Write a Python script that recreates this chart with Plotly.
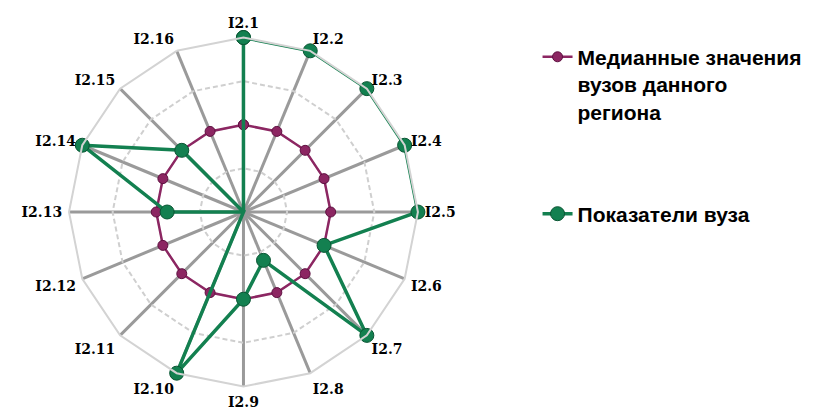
import plotly.graph_objects as go

categories = ["I2.1", "I2.2", "I2.3", "I2.4", "I2.5", "I2.6", "I2.7", "I2.8",
              "I2.9", "I2.10", "I2.11", "I2.12", "I2.13", "I2.14", "I2.15", "I2.16"]
median_values = [2, 2, 2, 2, 2, 2, 2, 2, 2, 2, 2, 2, 2, 2, 2, 2]
university_values = [4, 4, 4, 4, 4, 2, 4, 1.2, 2, 4, 0, 0, 1.75, 4, 2, 0]
median_name = "Медианные значения<br>вузов данного<br>региона"
university_name = "Показатели вуза"

def closed(a):
    return list(a) + [a[0]]

fig = go.Figure()
fig.add_trace(go.Scatterpolar(
    r=closed(median_values), theta=closed(categories), name=median_name,
    mode="lines+markers", legendgroup="a",
    line=dict(color="#8c2662", width=2.5),
    marker=dict(color="#8c2662", size=10, line=dict(color="#5e1040", width=1)),
))
fig.add_trace(go.Scatterpolar(
    r=closed(university_values), theta=closed(categories), name=university_name,
    mode="lines+markers", legendgroup="b",
    line=dict(color="#138050", width=3.5),
    marker=dict(color="#138050", size=14, line=dict(color="#0a5533", width=1)),
))

fig.update_layout(
    width=821, height=409,
    margin=dict(l=0, r=0, t=0, b=0),
    paper_bgcolor="white",
    polar=dict(
        domain=dict(x=[0.0743, 0.4993], y=[0.0745, 0.9279]),
        bgcolor="white",
        gridshape="linear",
        radialaxis=dict(range=[0, 4], tickvals=[1, 2, 3, 4], showticklabels=False,
                        ticks="", showline=False, gridcolor="#cfcfcf", gridwidth=2,
                        griddash="5px,3px"),
        angularaxis=dict(direction="clockwise", rotation=90, showline=True,
                         linecolor="#d3d3d3", linewidth=2,
                         gridcolor="#9a9a9a", gridwidth=2.5,
                         ticks="outside", ticklen=3, tickcolor="rgba(0,0,0,0)",
                         tickfont=dict(family="DejaVu Serif", size=14, color="black",
                                       weight="bold")),
    ),
    legend=dict(x=0.645, y=0.93, xanchor="left", yanchor="top",
                valign="top", tracegroupgap=72,
                font=dict(family="Liberation Sans", size=21, color="black", weight="bold")),
    showlegend=True,
)

fig.write_html("out.html")
